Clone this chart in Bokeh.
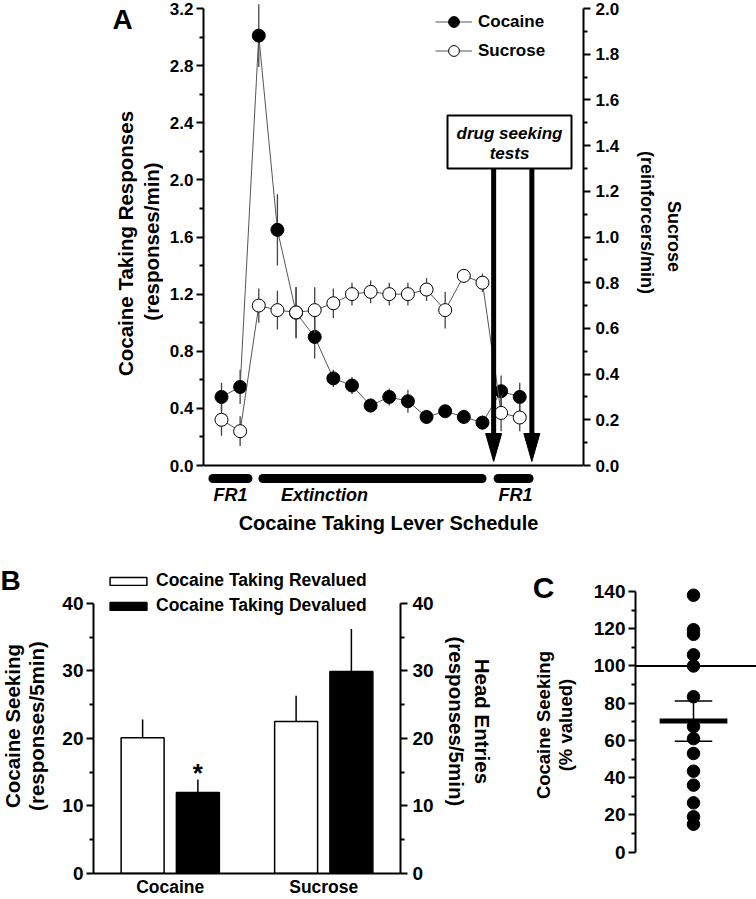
import math
import numpy as np
from bokeh.plotting import figure
from bokeh.models import (Range1d, LinearAxis, FixedTicker, NumeralTickFormatter, Label, Span,
                          BoxAnnotation, Legend, LegendItem)
from bokeh.layouts import column, row
from bokeh.embed import file_html
from bokeh.resources import INLINE

FONT = "Liberation Sans"

# ---------------- Panel A data ----------------
session = list(range(17))
cocaine_rate = [0.48, 0.55, 3.01, 1.65, 1.07, 0.90, 0.61, 0.56, 0.42, 0.48, 0.45, 0.34, 0.38, 0.34, 0.30, 0.52, 0.48]
cocaine_sem = [0.10, 0.12, 0.22, 0.25, 0.18, 0.15, 0.06, 0.06, 0.05, 0.06, 0.08, 0.05, 0.04, 0.05, 0.05, 0.11, 0.10]
sucrose_rate = [0.20, 0.15, 0.70, 0.68, 0.67, 0.68, 0.71, 0.75, 0.76, 0.75, 0.75, 0.77, 0.68, 0.83, 0.80, 0.23, 0.21]
sucrose_sem = [0.07, 0.065, 0.075, 0.085, 0.11, 0.10, 0.065, 0.05, 0.05, 0.05, 0.05, 0.05, 0.08, 0.03, 0.04, 0.08, 0.06]
schedule_names = ["FR1", "Extinction", "FR1"]
schedule_start = [-0.70, 1.98, 14.60]
schedule_end = [1.66, 14.22, 16.74]
schedule_label_x = [0.48, 5.53, 15.77]
test_session = [14.6, 16.65]
a_left_ticks = [0.0, 0.4, 0.8, 1.2, 1.6, 2.0, 2.4, 2.8, 3.2]
a_right_ticks = [0.0, 0.2, 0.4, 0.6, 0.8, 1.0, 1.2, 1.4, 1.6, 1.8, 2.0]

# ---------------- Panel B data ----------------
b_groups = ["Cocaine", "Sucrose"]
b_revalued = [20.1, 22.5]
b_revalued_sem = [2.7, 3.8]
b_devalued = [12.0, 29.9]
b_devalued_sem = [1.9, 6.3]
b_ticks = [0, 10, 20, 30, 40]

# ---------------- Panel C data ----------------
c_seeking = [138, 119.5, 117, 106, 100, 83.5, 67.5, 61, 53, 43.5, 36, 26.5, 19, 15]
c_ticks = [0, 20, 40, 60, 80, 100, 120, 140]


def minors(t):
    return [(a + b) / 2 for a, b in zip(t[:-1], t[1:])]


def style_axis(ax, ticks, fmt, size, standoff):
    ax.ticker = FixedTicker(ticks=ticks, minor_ticks=minors(ticks))
    ax.bounds = (ticks[0], ticks[-1])
    ax.formatter = NumeralTickFormatter(format=fmt)
    ax.major_label_text_font = FONT
    ax.major_label_text_font_style = "bold"
    ax.major_label_text_font_size = f"{size}px"
    ax.major_label_text_color = "black"
    ax.major_label_standoff = standoff
    ax.axis_line_width = 2
    ax.axis_line_color = "black"
    ax.major_tick_line_width = 2
    ax.minor_tick_line_width = 2
    ax.major_tick_out = 7
    ax.major_tick_in = 0
    ax.minor_tick_out = 4
    ax.minor_tick_in = 0
    ax.axis_label_standoff = 0


def mapper(fl, fr, ft, fb, xr, yr):
    def fx(px):
        return xr[0] + (px - fl) / (fr - fl) * (xr[1] - xr[0])

    def fy(py):
        return yr[0] + (fb - py) / (fb - ft) * (yr[1] - yr[0])
    return fx, fy


def text(p, x, y, s, size, style="bold", angle=0.0, align="center"):
    p.add_layout(Label(x=x, y=y, text=s, text_align=align, text_baseline="middle",
                       text_font=FONT, text_font_style=style, text_font_size=f"{size}px",
                       text_color="black", angle=angle))


def clean(p):
    p.outline_line_color = None
    p.background_fill_color = "white"
    p.border_fill_color = "white"
    for g in p.grid:
        g.visible = False


def gutter(x0, x1, y0, y1):
    """A blank figure used only to hold text outside the plot frames (page pixel coords)."""
    g = figure(width=x1 - x0, height=y1 - y0, x_range=Range1d(x0, x1), y_range=Range1d(y1, y0),
               output_backend="svg", toolbar_location=None, x_axis_location=None,
               y_axis_location=None, min_border=0)
    clean(g)
    return g


# ================= Panel A =================
A_L, A_R, A_T, A_B = 203, 583, 0, 540       # frame edges, page px
A_X0, A_X1 = 163, 628                        # figure edges, page px
SP, X0P = 18.64, 221                         # session spacing, page x of session 0
Y0P, Y32P = 465, 8                           # page y of 0.0 and 3.2
a_ppu = (Y0P - Y32P) / 3.2
a_xr = ((A_L - X0P) / SP, (A_R - X0P) / SP)
a_yr = (-(A_B - Y0P) / a_ppu, 3.2 + (Y32P - A_T) / a_ppu)
suc_scale = 2.0 / 3.2

pA = figure(width=A_X1 - A_X0, height=A_B - A_T, x_range=Range1d(*a_xr), y_range=Range1d(*a_yr),
            output_backend="svg", toolbar_location=None, x_axis_location=None,
            min_border_left=A_L - A_X0, min_border_right=A_X1 - A_R, min_border_top=0,
            min_border_bottom=0)
clean(pA)
pA.extra_y_ranges = {"suc": Range1d(a_yr[0] * suc_scale, a_yr[1] * suc_scale)}
pA.add_layout(LinearAxis(y_range_name="suc"), "right")
style_axis(pA.yaxis[0], a_left_ticks, "0.0", 17, 3)
style_axis(pA.yaxis[1], a_right_ticks, "0.0", 17, 5)
fxA, fyA = mapper(A_L, A_R, A_T, A_B, a_xr, a_yr)

pA.add_layout(Span(location=0, dimension="width", line_color="black", line_width=2))

# cocaine series
pA.segment(x0=session, y0=[v - e for v, e in zip(cocaine_rate, cocaine_sem)],
           x1=session, y1=[v + e for v, e in zip(cocaine_rate, cocaine_sem)],
           line_color="#444444", line_width=1.3)
c_line = pA.line(session, cocaine_rate, line_color="#555555", line_width=1)
c_pts = pA.scatter(session, cocaine_rate, size=13, fill_color="black", line_color="black")
# sucrose series
pA.segment(x0=session, y0=[v - e for v, e in zip(sucrose_rate, sucrose_sem)],
           x1=session, y1=[v + e for v, e in zip(sucrose_rate, sucrose_sem)],
           line_color="#444444", line_width=1.3, y_range_name="suc")
s_line = pA.line(session, sucrose_rate, line_color="#555555", line_width=1, y_range_name="suc")
s_pts = pA.scatter(session, sucrose_rate, size=13, fill_color="white", line_color="black",
                   line_width=1, y_range_name="suc")

# schedule bars
cap = 4.5 / SP
pA.segment(x0=[s + cap for s in schedule_start], y0=[fyA(478)] * 3,
           x1=[e - cap for e in schedule_end], y1=[fyA(478)] * 3,
           line_color="black", line_width=9, line_cap="round")
for name, lx in zip(schedule_names, schedule_label_x):
    text(pA, lx, fyA(494), name, 18, style="bold italic")
text(pA, fxA(388), fyA(522), "Cocaine Taking Lever Schedule", 20)

# test arrows
pA.segment(x0=test_session, y0=[fyA(168)] * 2, x1=test_session, y1=[fyA(434)] * 2,
           line_color="black", line_width=5)
hw = 8 / SP
pA.patches(xs=[[t - hw, t + hw, t] for t in test_session],
           ys=[[fyA(433), fyA(433), fyA(461)] for _ in test_session],
           fill_color="black", line_color="black")
pA.add_layout(BoxAnnotation(left=fxA(447), right=fxA(571), top=fyA(115), bottom=fyA(168),
                            fill_color="white", fill_alpha=1, line_color="black",
                            line_alpha=1, line_width=2))
text(pA, fxA(509), fyA(133), "drug seeking", 17, style="bold italic")
text(pA, fxA(509), fyA(153), "tests", 17, style="bold italic")

legA = Legend(items=[LegendItem(label="Cocaine", renderers=[c_line, c_pts]),
                     LegendItem(label="Sucrose", renderers=[s_line, s_pts])],
              location=(232, 476), glyph_width=37, glyph_height=27, label_height=27,
              spacing=2, padding=0, margin=0, border_line_color=None,
              background_fill_alpha=0, label_text_font=FONT, label_text_font_style="bold",
              label_text_font_size="17px", label_text_color="black", label_standoff=6)
pA.add_layout(legA)

gA_L = gutter(0, A_X0, 0, A_B)
text(gA_L, 112, 19, "A", 28, align="left")
text(gA_L, 125, 243, "Cocaine Taking Responses", 20.5, angle=math.pi / 2)
text(gA_L, 151, 241, "(responses/min)", 20.5, angle=math.pi / 2)
gA_R = gutter(A_X1, 756, 0, A_B)
text(gA_R, 673, 236, "Sucrose", 18, angle=-math.pi / 2)
text(gA_R, 646, 222, "(reinforcers/min)", 18, angle=-math.pi / 2)

# ================= Panel B =================
ROW_T, ROW_B = 540, 899
B_X0, B_X1 = 50, 440
B_L, B_R, B_T, B_B = 93, 400, ROW_T, 874
b_ppu = (B_B - 603) / 40
b_yr = (0, 40 + (603 - B_T) / b_ppu)
b_xr = (-0.5, 1.5)
pB = figure(width=B_X1 - B_X0, height=ROW_B - ROW_T, x_range=Range1d(*b_xr), y_range=Range1d(*b_yr),
            output_backend="svg", toolbar_location=None,
            min_border_left=B_L - B_X0, min_border_right=B_X1 - B_R, min_border_top=0,
            min_border_bottom=ROW_B - B_B)
clean(pB)
pB.extra_y_ranges = {"he": Range1d(*b_yr)}
pB.add_layout(LinearAxis(y_range_name="he"), "right")
style_axis(pB.yaxis[0], b_ticks, "0", 19, 3)
style_axis(pB.yaxis[1], b_ticks, "0", 19, 5)
bx = pB.xaxis[0]
bx.ticker = FixedTicker(ticks=list(range(len(b_groups))), minor_ticks=[])
bx.major_label_overrides = {i: g for i, g in enumerate(b_groups)}
bx.major_tick_line_color = None
bx.minor_tick_line_color = None
bx.major_tick_out = 0
bx.major_tick_in = 0
bx.minor_tick_out = 0
bx.axis_label_standoff = 0
bx.major_label_text_font = FONT
bx.major_label_text_font_style = "bold"
bx.major_label_text_font_size = "17.5px"
bx.major_label_text_color = "black"
bx.major_label_standoff = 3
bx.axis_line_width = 2
fxB, fyB = mapper(B_L, B_R, B_T, B_B, b_xr, b_yr)

gx = list(range(len(b_groups)))
off, bw = 0.18, 0.28
xr_ = [g - off for g in gx]
xd_ = [g + off for g in gx]
pB.segment(x0=xr_, y0=b_revalued, x1=xr_, y1=[v + e for v, e in zip(b_revalued, b_revalued_sem)],
           line_color="black", line_width=1.5)
pB.segment(x0=xd_, y0=b_devalued, x1=xd_, y1=[v + e for v, e in zip(b_devalued, b_devalued_sem)],
           line_color="black", line_width=1.5)
r_w = pB.vbar(x=xr_, top=b_revalued, width=bw, fill_color="white", line_color="black", line_width=1.5)
r_b = pB.vbar(x=xd_, top=b_devalued, width=bw, fill_color="black", line_color="black", line_width=1.5)
text(pB, xd_[0], fyB(773), "*", 26)

legB = Legend(items=[LegendItem(label="Cocaine Taking Revalued", renderers=[r_w]),
                     LegendItem(label="Cocaine Taking Devalued", renderers=[r_b])],
              location=(12, 257), glyph_width=46, glyph_height=10, label_height=20,
              spacing=4, padding=0, margin=0, border_line_color=None,
              background_fill_alpha=0, label_text_font=FONT, label_text_font_style="bold",
              label_text_font_size="17.5px", label_text_color="black", label_standoff=5)
pB.add_layout(legB)

gB_L = gutter(0, B_X0, ROW_T, ROW_B)
text(gB_L, 0, 583, "B", 28, align="left")
text(gB_L, 12, 740, "Cocaine Seeking", 20.5, angle=math.pi / 2)
text(gB_L, 36, 740, "(responses/5min)", 20.5, angle=math.pi / 2)
gB_R = gutter(B_X1, 520, ROW_T, ROW_B)
text(gB_R, 482, 735, "Head Entries", 20.5, angle=-math.pi / 2)
text(gB_R, 456, 735, "(responses/5min)", 20.5, angle=-math.pi / 2)

# ================= Panel C =================
C_X0 = 590
C_L, C_R, C_T, C_B = 635, 756, ROW_T, ROW_B
c_ppu = (876 - 595) / 140
c_yr = (-(C_B - 876) / c_ppu, 140 + (595 - C_T) / c_ppu)
c_xr = (-(693 - C_L) / (C_R - C_L), (C_R - 693) / (C_R - C_L))
pC = figure(width=C_R - C_X0, height=ROW_B - ROW_T, x_range=Range1d(*c_xr), y_range=Range1d(*c_yr),
            output_backend="svg", toolbar_location=None, x_axis_location=None,
            min_border_left=C_L - C_X0, min_border_right=0, min_border_top=0, min_border_bottom=0)
clean(pC)
style_axis(pC.yaxis[0], c_ticks, "0", 19, 3)

pC.add_layout(Span(location=100, dimension="width", line_color="black", line_width=2))
pC.scatter(x=[0] * len(c_seeking), y=c_seeking, size=12.5, fill_color="black", line_color="black")
c_mean = float(np.mean(c_seeking))
c_sem = float(np.std(c_seeking, ddof=1) / np.sqrt(len(c_seeking)))
pC.segment(x0=[0], y0=[c_mean - c_sem], x1=[0], y1=[c_mean + c_sem], line_color="black", line_width=1.5)
pC.segment(x0=[-0.155, -0.155], y0=[c_mean - c_sem, c_mean + c_sem],
           x1=[0.155, 0.155], y1=[c_mean - c_sem, c_mean + c_sem], line_color="black", line_width=1.5)
pC.segment(x0=[-0.28], y0=[c_mean], x1=[0.28], y1=[c_mean], line_color="black", line_width=5)

gC_L = gutter(520, C_X0, ROW_T, ROW_B)
text(gC_L, 543, 591, "C", 30)
text(gC_L, 543, 739, "Cocaine Seeking", 18.5, angle=math.pi / 2)
text(gC_L, 565, 739, "(% valued)", 18.5, angle=math.pi / 2)

top = row(gA_L, pA, gA_R, spacing=0)
bottom = row(gB_L, pB, gB_R, gC_L, pC, spacing=0)
layout = column(top, bottom, spacing=0)
open("out.html", "w").write(file_html(layout, INLINE))
